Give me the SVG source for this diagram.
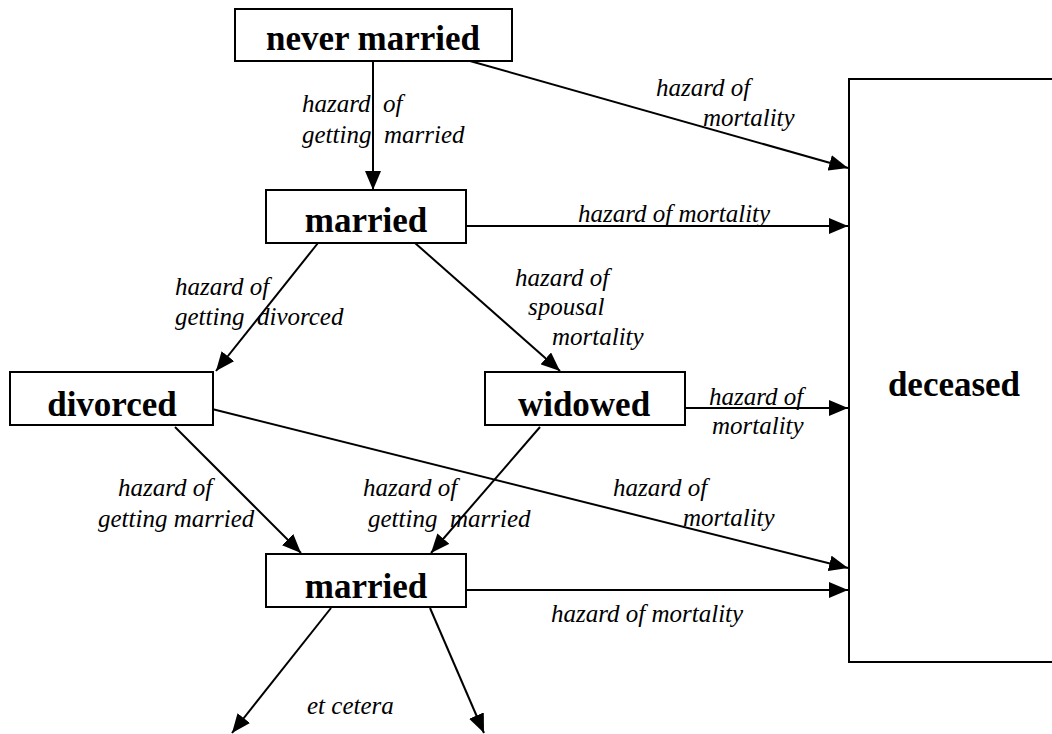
<svg xmlns="http://www.w3.org/2000/svg" width="1052" height="734" viewBox="0 0 1052 734">
<defs>
<marker id="ah" markerWidth="20" markerHeight="16" refX="19" refY="8" orient="auto" markerUnits="userSpaceOnUse">
<path d="M0,0 L19,8 L0,16 Z" fill="#000"/>
</marker>
<style>
.box{fill:#fff;stroke:#000;stroke-width:2}
.node{font-family:"Liberation Serif","Times New Roman",serif;font-weight:bold;font-size:35px;text-anchor:middle;fill:#000}
.lbl{font-family:"Liberation Serif","Times New Roman",serif;font-style:italic;font-size:25px;fill:#000;white-space:pre}
.c{stroke:#000;stroke-width:2;fill:none;marker-end:url(#ah)}
</style>
</defs>
<rect width="1052" height="734" fill="#fff"/>
<g id="connectors">
<line class="c" x1="373" y1="61" x2="373" y2="190"/>
<line class="c" x1="470" y1="61" x2="848" y2="168"/>
<line class="c" x1="466" y1="226" x2="848" y2="226"/>
<line class="c" x1="318" y1="243" x2="216" y2="371"/>
<line class="c" x1="415" y1="243" x2="560" y2="371"/>
<line class="c" x1="685" y1="408" x2="848" y2="408"/>
<line class="c" x1="208" y1="408" x2="848" y2="568"/>
<line class="c" x1="175" y1="427" x2="301" y2="553"/>
<line class="c" x1="540" y1="427" x2="431" y2="553"/>
<line class="c" x1="466" y1="590" x2="848" y2="590"/>
<line class="c" x1="331" y1="608" x2="232" y2="733"/>
<line class="c" x1="430" y1="608" x2="484" y2="733"/>
</g>
<g id="labels">
<text class="lbl" x="302" y="112">hazard  of</text>
<text class="lbl" x="302" y="143">getting  married</text>
<text class="lbl" x="656" y="96">hazard of</text>
<text class="lbl" x="703" y="126">mortality</text>
<text class="lbl" x="578" y="222">hazard of mortality</text>
<text class="lbl" x="175" y="295">hazard of</text>
<text class="lbl" x="175" y="325">getting  divorced</text>
<text class="lbl" x="515" y="286">hazard of</text>
<text class="lbl" x="528" y="315">spousal</text>
<text class="lbl" x="552" y="345">mortality</text>
<text class="lbl" x="709" y="405">hazard of</text>
<text class="lbl" x="712" y="434">mortality</text>
<text class="lbl" x="118" y="496">hazard of</text>
<text class="lbl" x="98" y="527">getting married</text>
<text class="lbl" x="363" y="496">hazard of</text>
<text class="lbl" x="368" y="527">getting  married</text>
<text class="lbl" x="613" y="496">hazard of</text>
<text class="lbl" x="683" y="526">mortality</text>
<text class="lbl" x="551" y="622">hazard of mortality</text>
<text class="lbl" x="307" y="714">et cetera</text>
</g>
<g id="never-married">
<rect class="box" x="235" y="9" width="277" height="52"/>
<text class="node" x="373" y="50">never married</text>
</g>
<g id="married">
<rect class="box" x="266" y="190" width="200" height="53"/>
<text class="node" x="366" y="232">married</text>
</g>
<g id="divorced">
<rect class="box" x="10" y="372" width="203" height="53"/>
<text class="node" x="112" y="416">divorced</text>
</g>
<g id="widowed">
<rect class="box" x="485" y="372" width="200" height="53"/>
<text class="node" x="584" y="416">widowed</text>
</g>
<g id="married2">
<rect class="box" x="266" y="554" width="200" height="53"/>
<text class="node" x="366" y="598">married</text>
</g>
<g id="deceased">
<path class="box" d="M1053,79 L849,79 L849,662 L1053,662"/>
<text class="node" x="954" y="396">deceased</text>
</g>
</svg>
